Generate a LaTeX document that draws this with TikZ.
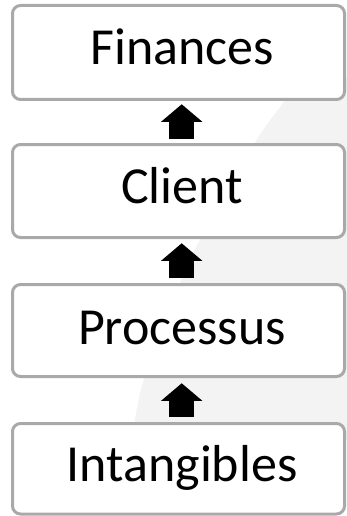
\documentclass[tikz,border=0pt]{standalone}
\usepackage{fontspec}
\setmainfont{Carlito}
\usetikzlibrary{arrows.meta}
\definecolor{boxline}{HTML}{A9A9A9}
\definecolor{bgfill}{HTML}{F3F3F3}
\tikzset{
  stagebox/.style={draw=boxline, fill=white, line width=3pt, rounded corners=8pt,
    minimum width=332pt, inner sep=0pt, rectangle},
  stagelbl/.style={anchor=base, inner sep=0pt, font=\fontsize{52}{62}\selectfont, text=black},
  uparrow/.style={line width=25.5pt, black,
    -{Triangle[width=41.3pt,length=17.5pt,line width=0pt]}}
}
\begin{document}
\begin{tikzpicture}[x=1pt,y=-1pt]
\useasboundingbox (0,0) rectangle (347,516);
% light background ramp
\fill[bgfill] plot[smooth] coordinates {(131,440) (135,419) (145,376) (182,278) (200,240) (256,141) (283,103) (300,78)}
  -- (347,78) -- (347,440) -- cycle;
% boxes
\node[stagebox, minimum height=94pt]   (b1) at (178.5,52.5) {};
\node[stagebox, minimum height=93pt]   (b2) at (178.5,191) {};
\node[stagebox, minimum height=92pt]   (b3) at (178.5,330.5) {};
\node[stagebox, minimum height=90.5pt] (b4) at (178.5,468.75) {};
% labels
\node[stagelbl] (t1) at (182.5,64.3) {Finances};
\node[stagelbl] (t2) at (182,203.3) {Client};
\node[stagelbl] (t3) at (182,344.3) {Processus};
\node[stagelbl] (t4) at (182,481.7) {Intangibles};
% arrows (from lower box up to upper box)
\draw[uparrow] ([xshift=3.2pt,yshift=3.7pt]b2.north) -- ([xshift=3.2pt,yshift=-3.3pt]b1.south);
\draw[uparrow] ([xshift=3.2pt,yshift=4.7pt]b3.north) -- ([xshift=3.2pt,yshift=-4.3pt]b2.south);
\draw[uparrow] ([xshift=3.2pt,yshift=5.3pt]b4.north) -- ([xshift=3.2pt,yshift=-5.3pt]b3.south);
\end{tikzpicture}
\end{document}
